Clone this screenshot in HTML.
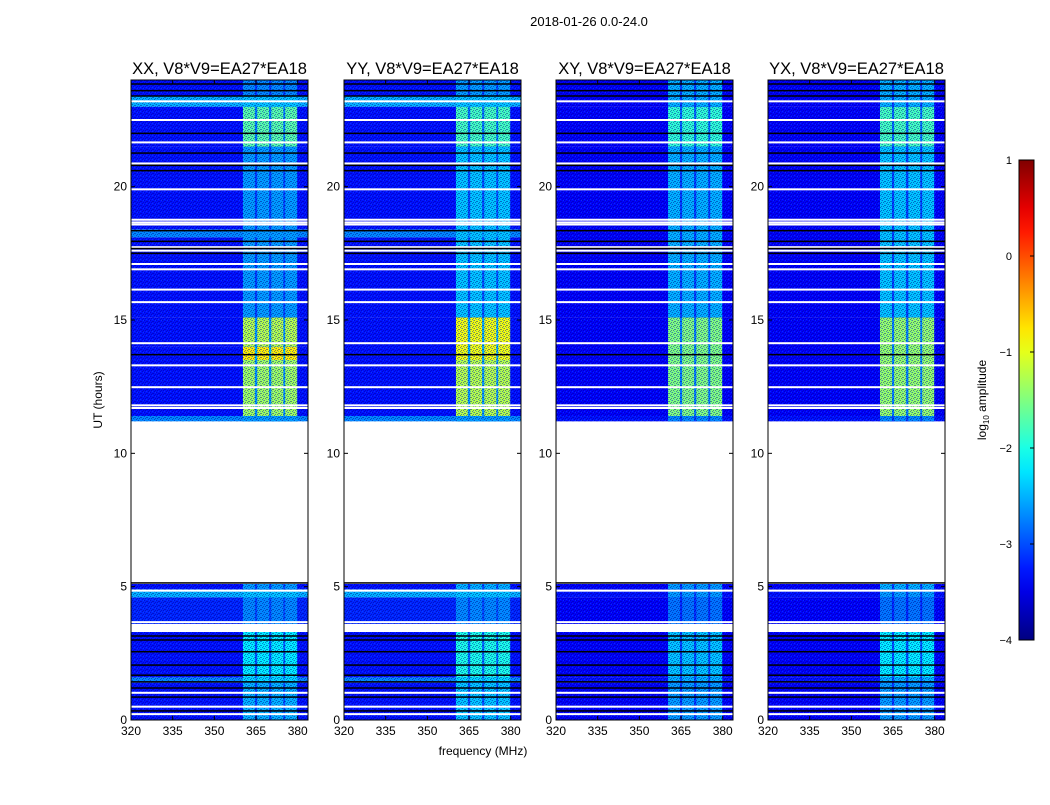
<!DOCTYPE html>
<html><head><meta charset="utf-8"><style>
body{margin:0;background:#fff;width:1050px;height:800px;overflow:hidden;font-family:"Liberation Sans",sans-serif}
svg text{font-family:"Liberation Sans",sans-serif}
</style></head><body>
<svg id="fig" width="1050" height="800">
<defs>
<pattern id="noise" width="6" height="4" patternUnits="userSpaceOnUse">
<rect x="0" y="0" width="1" height="1" fill="#00008a"/><rect x="3" y="1" width="1" height="1" fill="#00008a"/>
<rect x="1" y="2" width="1" height="1" fill="#00008a"/><rect x="4" y="3" width="1" height="1" fill="#00008a"/>
<rect x="5" y="0" width="1" height="1" fill="#1060ff"/><rect x="2" y="3" width="1" height="1" fill="#1060ff"/>
<rect x="2" y="1" width="1" height="1" fill="#000090"/><rect x="5" y="2" width="1" height="1" fill="#000090"/>
</pattern>
</defs>
<text x="589" y="26" font-size="13" text-anchor="middle">2018-01-26 0.0-24.0</text>
<text x="483" y="755" font-size="12" text-anchor="middle">frequency (MHz)</text>
<text transform="translate(102,400) rotate(-90)" font-size="12" text-anchor="middle">UT (hours)</text>
<g id="panels"></g>
<g id="cbar"></g>
<text transform="translate(986,400) rotate(-90)" font-size="12" text-anchor="middle">log<tspan font-size="8" dy="3">10</tspan><tspan dy="-3"> amplitude</tspan></text>
</svg>
<script>
// ---- data ----
const panelTitles = ["XX, V8*V9=EA27*EA18","YY, V8*V9=EA27*EA18","XY, V8*V9=EA27*EA18","YX, V8*V9=EA27*EA18"];
const panelLefts = [131,344,556,768];
const xTicks = [320,335,350,365,380];
const yTicks = [0,5,10,15,20];
const cbarTicks = [1,0,-1,-2,-3,-4];
// RFI band blocks (MHz)
const rfiBlocks = [[360.3,364.6],[365.4,369.7],[370.5,374.8],[375.5,379.8]];
// segments: [t0, t1, background log amp, rfi log amp]
const segXX = [[0,1.4,-3.3,-2.5],[1.4,1.6,-2.7,-2.3],[1.6,3.3,-3.3,-2.2],[3.6,4.6,-3.2,-2.7],[4.6,4.9,-2.5,-2.4],[4.9,5.1,-3.3,-2.6],
 [11.2,11.4,-2.7,-2.6],[11.4,13.5,-3.3,-1.35],[13.5,14.0,-3.3,-0.8],[14.0,15.1,-3.3,-1.25],[15.1,18.1,-3.3,-2.6],[18.1,18.4,-2.7,-2.6],
 [18.4,21.5,-3.3,-2.6],[21.5,23.0,-3.3,-1.7],[23.0,23.4,-2.5,-2.4],[23.4,24,-3.3,-2.7]];
const segYY = [[0,1.4,-3.3,-2.4],[1.4,1.6,-2.7,-2.3],[1.6,3.3,-3.3,-2.0],[3.6,4.6,-3.2,-2.7],[4.6,4.9,-2.5,-2.4],[4.9,5.1,-3.3,-2.5],
 [11.2,11.4,-2.7,-2.6],[11.4,13.5,-3.3,-1.25],[13.5,15.1,-3.3,-0.95],[15.1,18.1,-3.3,-2.4],[18.1,18.4,-2.7,-2.4],
 [18.4,21.5,-3.3,-2.4],[21.5,23.0,-3.3,-1.8],[23.0,23.4,-2.5,-2.4],[23.4,24,-3.3,-2.6]];
const segXY = [[0,1.4,-3.4,-2.6],[1.4,1.6,-3.3,-2.5],[1.6,3.3,-3.4,-2.4],[3.6,4.6,-3.4,-2.8],[4.6,4.9,-3.3,-2.6],[4.9,5.1,-3.4,-2.6],
 [11.2,11.4,-3.3,-2.7],[11.4,15.1,-3.4,-1.5],[15.1,21.5,-3.4,-2.5],[21.5,23.0,-3.4,-1.9],[23.0,24,-3.4,-2.5]];
const segYX = [[0,1.4,-3.4,-2.6],[1.4,1.6,-3.3,-2.5],[1.6,3.3,-3.4,-2.2],[3.6,4.6,-3.4,-2.8],[4.6,4.9,-3.3,-2.6],[4.9,5.1,-3.4,-2.5],
 [11.2,11.4,-3.3,-2.7],[11.4,15.1,-3.4,-1.4],[15.1,21.5,-3.4,-2.4],[21.5,23.0,-3.4,-1.8],[23.0,24,-3.4,-2.5]];
const panelSegs = [segXX, segYY, segXY, segYX];
// flagged rows (hours)
const whiteLines = [0.22,0.5,1.02,3.35,3.45,3.67,4.85,11.7,11.8,12.48,13.3,14.13,15.67,16.14,16.9,17.1,17.6,17.73,18.58,18.66,18.76,19.9,20.87,21.66,22.5,23.2];
const blackLines = [0.34,0.86,1.2,1.43,1.68,2.06,2.56,3.0,3.15,5.14,13.7,17.5,17.68,17.95,18.35,20.6,20.8,21.26,22.0,23.4,23.6,23.85];

// ---- axes ----
const F0=320,F1=383.7,T0=0,T1=24,PW=177,PT=80,PB=720;
const xs=(f,l)=>l+(f-F0)/(F1-F0)*PW;
const ys=t=>PB-(t-T0)/(T1-T0)*(PB-PT);
function jet(v){const n=Math.max(0,Math.min(1,(v+4)/5));const c=x=>Math.round(255*Math.max(0,Math.min(1,1.5-Math.abs(x))));
 return `rgb(${c(4*n-3)},${c(4*n-2)},${c(4*n-1)})`;}
const NS="http://www.w3.org/2000/svg";
function mk(tag,attrs,parent){const e=document.createElementNS(NS,tag);for(const k in attrs)e.setAttribute(k,attrs[k]);parent.appendChild(e);return e;}
const root=document.getElementById('panels');
panelSegs.forEach((segs,pi)=>{
 const L=panelLefts[pi];
 const g=mk('g',{},root);
 
 
 segs.forEach(s=>{
  const y0=ys(s[1]),y1=ys(s[0]);
  const r=mk('rect',{x:L,y:y0,width:PW,height:y1-y0,fill:jet(s[2])},g);
  
  
  const gp=mk('rect',{x:xs(rfiBlocks[0][0],L),y:y0,width:xs(rfiBlocks[3][1],L)-xs(rfiBlocks[0][0],L),height:y1-y0,fill:jet((s[2]*2+s[3])/3)},g);
  
  
  rfiBlocks.forEach(b=>{
   const c=mk('rect',{x:xs(b[0],L),y:y0,width:xs(b[1],L)-xs(b[0],L),height:y1-y0,fill:jet(s[3])},g);
   
   
  });
  const nz=mk('rect',{x:L,y:y0,width:PW,height:y1-y0,fill:'url(#noise)',opacity:0.45},g);
  
  
 });
 whiteLines.forEach(t=>{const l=mk('rect',{x:L,y:ys(t)-1,width:PW,height:2,fill:'#fff'},g);
  
  });
 blackLines.forEach(t=>{const l=mk('rect',{x:L,y:ys(t)-0.75,width:PW,height:1.5,fill:'#000'},g);
  
  });
 const fr=mk('rect',{x:L,y:PT,width:PW,height:PB-PT,fill:'none',stroke:'#000','stroke-width':1},g);
 
 
 const tt=mk('text',{x:L+PW/2,y:PT-6,'font-size':16.5,'text-anchor':'middle'},g);tt.textContent=panelTitles[pi];
 
 
 xTicks.forEach(f=>{const x=xs(f,L);
  mk('line',{x1:x,x2:x,y1:PB,y2:PB-4,stroke:'#000'},g);mk('line',{x1:x,x2:x,y1:PT,y2:PT+4,stroke:'#000'},g);
  const t=mk('text',{x:x,y:PB+15,'font-size':12,'text-anchor':'middle'},g);t.textContent=f;
  
  });
 yTicks.forEach(v=>{const y=ys(v);
  mk('line',{x1:L,x2:L+4,y1:y,y2:y,stroke:'#000'},g);mk('line',{x1:L+PW,x2:L+PW-4,y1:y,y2:y,stroke:'#000'},g);
  const t=mk('text',{x:L-4,y:y+4,'font-size':12,'text-anchor':'end'},g);t.textContent=v;
  
  });
});
// colorbar
const cb=document.getElementById('cbar');const CX=1019,CW=15,CT=160,CB=640;
const cy=v=>CB-(v+4)/5*(CB-CT);
const defs=mk('defs',{},cb);const lg=mk('linearGradient',{id:'jg',x1:0,y1:1,x2:0,y2:0},defs);
for(let i=0;i<=20;i++){mk('stop',{offset:i/20,'stop-color':jet(-4+i*0.25)},lg);}
const cr=mk('rect',{x:CX,y:CT,width:CW,height:CB-CT,fill:'url(#jg)',stroke:'#000'},cb);


cbarTicks.forEach(v=>{const y=cy(v);mk('line',{x1:CX+CW-4,x2:CX+CW,y1:y,y2:y,stroke:'#000'},cb);
 const t=mk('text',{x:1012,y:y+4,'font-size':11,'text-anchor':'end'},cb);t.textContent=(v<0?'\u2212'+(-v):v);
 
 });
</script>
</body></html>
